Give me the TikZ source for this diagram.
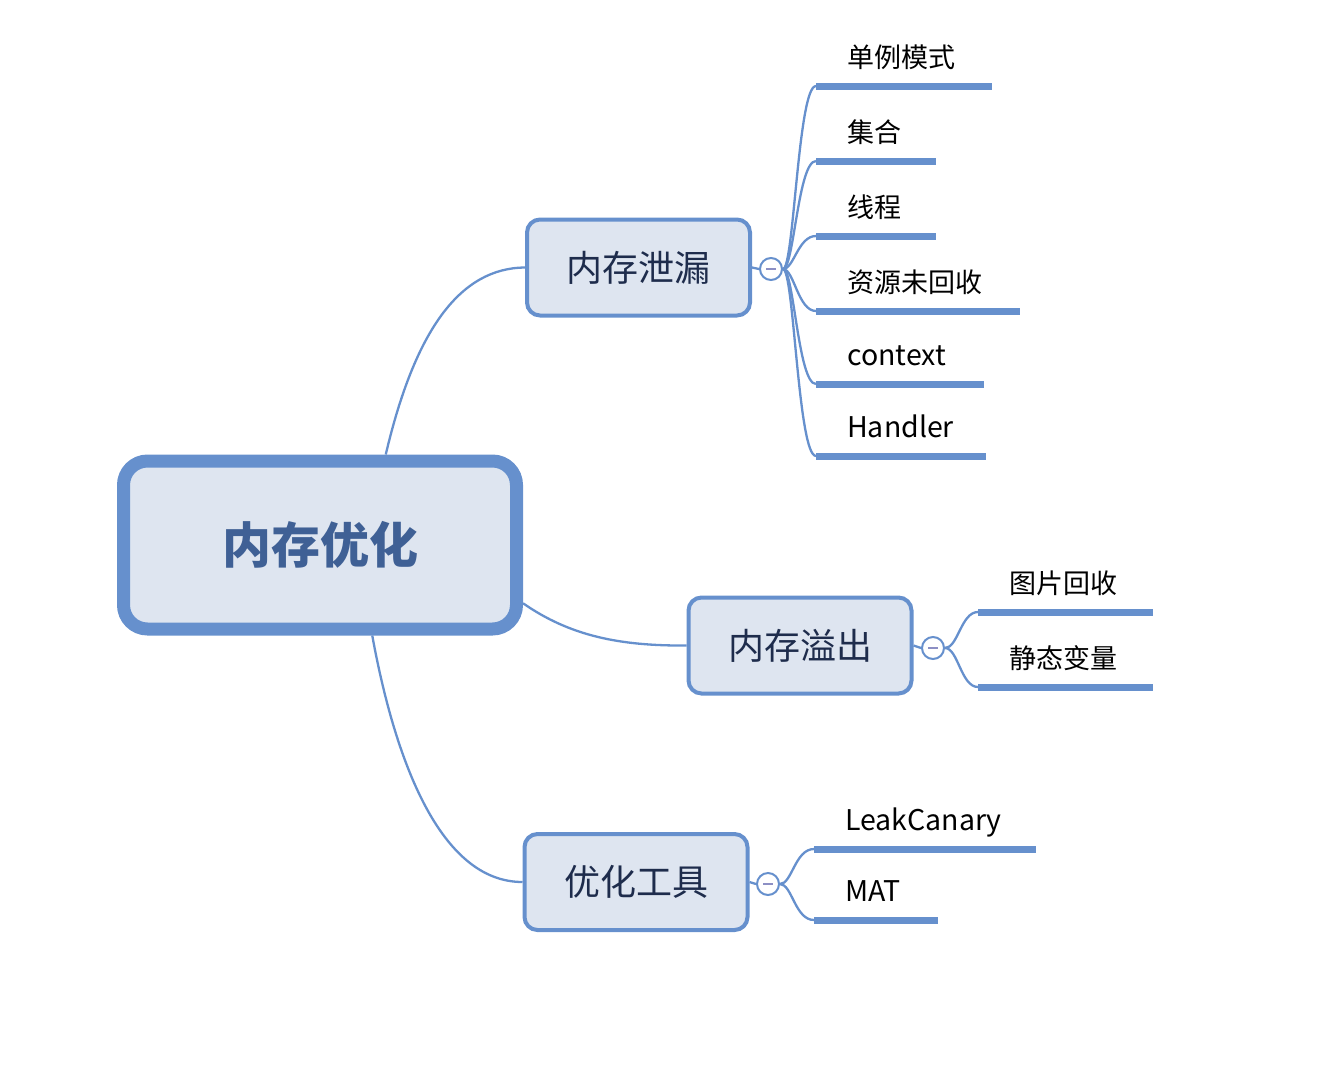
\documentclass[tikz,border=0pt]{standalone}
\usepackage{fontspec}
\setmainfont{Noto Sans CJK SC}
\definecolor{edge}{HTML}{6690CD}
\definecolor{boxfill}{HTML}{DEE5F0}
\definecolor{roottext}{HTML}{3F6095}
\definecolor{subtext}{HTML}{1E2C4C}
\definecolor{minus}{HTML}{8C8FC4}
\tikzset{
  rootbox/.style={draw=edge, fill=boxfill, line width=13pt, rounded corners=24pt,
    minimum width=393pt, minimum height=168pt, text=roottext,
    font=\fontsize{49}{55}\selectfont\bfseries, inner sep=0pt},
  subbox/.style={draw=edge, fill=boxfill, line width=4pt, rounded corners=13pt,
    minimum width=223pt, minimum height=96pt, text=subtext,
    font=\fontsize{36}{40}\selectfont, inner sep=0pt},
  toggle/.style={circle, draw=edge, fill=white, line width=2pt, minimum size=22pt, inner sep=0pt},
  conn/.style={draw=edge, line width=2.3pt},
  leafline/.style={draw=edge, line width=7pt},
  leaftext/.style={anchor=base west, inner sep=0pt, text=black, font=\fontsize{27}{30}\selectfont},
  latintext/.style={leaftext, font=\fontsize{28.5}{31}\selectfont},
}
\begin{document}
\begin{tikzpicture}[x=1pt, y=-1pt]
\useasboundingbox (0,0) rectangle (1340,1074);

% main nodes
\node[rootbox] (root) at (320,545) {内存优化};
\node[subbox] (leak) at (638.5,267.5) {内存泄漏};
\node[subbox] (oom) at (800,645.5) {内存溢出};
\node[subbox] (tools) at (636,882) {优化工具};

% root connectors
\draw[conn] (root.54) .. controls (415,330) and (460,268) .. (leak.west);
\draw[conn] (root.-16) .. controls (570,636) and (620,646) .. (oom.west);
\draw[conn] (root.-60) .. controls (395,760) and (440,882) .. (tools.west);

% toggles
\node[toggle] (tl) at (771,269) {};
\node[toggle] (to) at (933,648) {};
\node[toggle] (tt) at (768,884) {};
\draw[conn] (leak.east) -- (tl.west);
\draw[conn] (oom.east) -- (to.west);
\draw[conn] (tools.east) -- (tt.west);
\foreach \t in {tl,to,tt} {
  \draw[minus, line width=2.2pt] ([xshift=-5pt]\t.center) -- ([xshift=5pt]\t.center);
}

% leak leaves
\foreach \name/\y/\xe/\txt/\sty in {a/86/992/单例模式/leaftext, b/161/936/集合/leaftext, c/236/936/线程/leaftext, d/311/1020/资源未回收/leaftext, e/384/984/context/latintext, f/456/986/Handler/latintext} {
  \coordinate (\name s) at (816,\y);
  \coordinate (\name e) at (\xe,\y);
  \draw[conn] (tl.east) .. controls (794,269) and (798,\y) .. (\name s);
  \draw[leafline] (\name s) -- (\name e);
  \node[\sty] (\name t) at (847,\y-19) {\txt};
}

% overflow leaves
\foreach \name/\y/\xe/\txt in {g/612/1153/图片回收, h/687/1153/静态变量} {
  \coordinate (\name s) at (978,\y);
  \coordinate (\name e) at (\xe,\y);
  \draw[conn] (to.east) .. controls (958,648) and (961,\y) .. (\name s);
  \draw[leafline] (\name s) -- (\name e);
  \node[leaftext] (\name t) at (1009,\y-19) {\txt};
}

% tools leaves
\foreach \name/\y/\xe/\txt in {i/849/1036/LeakCanary, j/920/938/MAT} {
  \coordinate (\name s) at (814,\y);
  \coordinate (\name e) at (\xe,\y);
  \draw[conn] (tt.east) .. controls (792,884) and (795,\y) .. (\name s);
  \draw[leafline] (\name s) -- (\name e);
  \node[latintext] (\name t) at (845,\y-19) {\txt};
}
\end{tikzpicture}
\end{document}
